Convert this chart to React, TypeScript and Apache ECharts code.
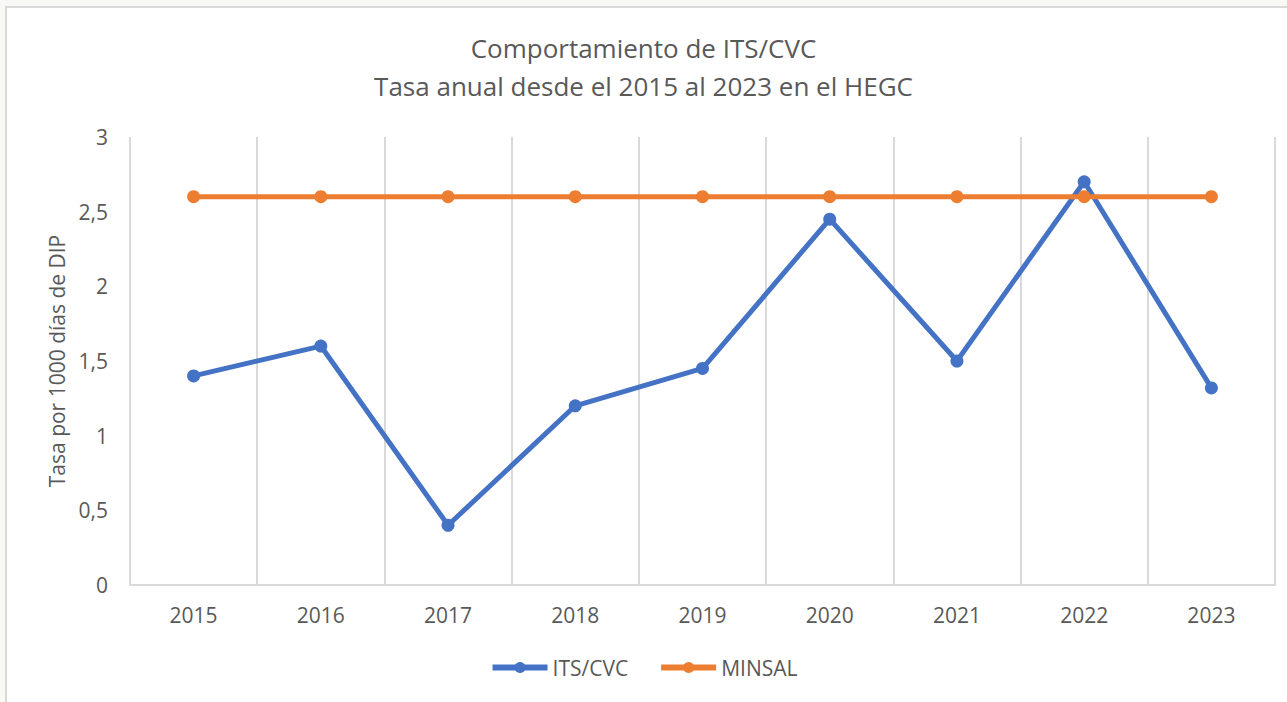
import React, { useEffect, useRef } from "react";
import * as echarts from "echarts";

const years = ["2015", "2016", "2017", "2018", "2019", "2020", "2021", "2022", "2023"];
const itsCvc = [1.4, 1.6, 0.4, 1.2, 1.45, 2.45, 1.5, 2.7, 1.32];
const minsal = [2.6, 2.6, 2.6, 2.6, 2.6, 2.6, 2.6, 2.6, 2.6];
const titleLines = ["Comportamiento de ITS/CVC", "Tasa anual desde el 2015 al 2023 en el HEGC"];
const yAxisName = "Tasa por 1000 días de DIP";

const FONT = "'Open Sans', 'Noto Sans', sans-serif";
const GREY = "#595959";

export default function App() {
  const ref = useRef<HTMLDivElement>(null);
  useEffect(() => {
    if (!ref.current) return;
    const chart = echarts.init(ref.current, undefined, { renderer: "svg" });
    chart.setOption({
      animation: false,
      backgroundColor: "#f8f8f4",
      textStyle: { fontFamily: FONT },
      graphic: [
        {
          type: "rect",
          z: -10,
          shape: { x: 6, y: 7, width: 1290, height: 700 },
          style: { fill: "#ffffff", stroke: "#d9d9d9", lineWidth: 2 },
        },
      ],
      title: {
        text: titleLines.join("\n"),
        left: "center",
        top: 24,
        textStyle: {
          fontFamily: FONT,
          fontSize: 26,
          fontWeight: "normal",
          color: GREY,
          lineHeight: 38,
        },
      },
      legend: {
        bottom: 19,
        left: "center",
        itemWidth: 55,
        itemHeight: 14,
        itemGap: 30,
        itemStyle: {},
        textStyle: { fontFamily: FONT, fontSize: 21, color: GREY },
        lineStyle: { width: 6 },
        data: ["ITS/CVC", "MINSAL"],
      },
      grid: { left: 130, right: 12, top: 137, bottom: 117, containLabel: false },
      xAxis: {
        type: "category",
        data: years,
        boundaryGap: true,
        axisLine: { show: true, lineStyle: { color: "#d9d9d9", width: 2 } },
        axisTick: { show: false },
        axisLabel: { color: GREY, fontSize: 21, margin: 19, fontFamily: FONT },
        splitLine: { show: true, lineStyle: { color: "#d9d9d9", width: 2 } },
      },
      yAxis: {
        type: "value",
        min: 0,
        max: 3,
        interval: 0.5,
        name: yAxisName,
        nameLocation: "middle",
        nameGap: 60,
        nameTextStyle: { color: GREY, fontSize: 21, fontFamily: FONT },
        axisLine: { show: false },
        axisTick: { show: false },
        splitLine: { show: false },
        axisLabel: {
          color: GREY,
          fontSize: 21,
          margin: 22,
          fontFamily: FONT,
          formatter: (v: number) => String(v).replace(".", ","),
        },
      },
      series: [
        {
          name: "ITS/CVC",
          type: "line",
          data: itsCvc,
          symbol: "circle",
          symbolSize: 13,
          lineStyle: { width: 5, color: "#4472c4" },
          itemStyle: { color: "#4472c4" },
          z: 3,
        },
        {
          name: "MINSAL",
          type: "line",
          data: minsal,
          symbol: "circle",
          symbolSize: 13,
          lineStyle: { width: 5, color: "#ed7d31" },
          itemStyle: { color: "#ed7d31" },
          z: 4,
        },
      ],
    });
    return () => chart.dispose();
  }, []);
  return (
    <div
      ref={ref}
      style={{ position: "fixed", left: 0, top: 0, width: 1287, height: 702 }}
    />
  );
}
